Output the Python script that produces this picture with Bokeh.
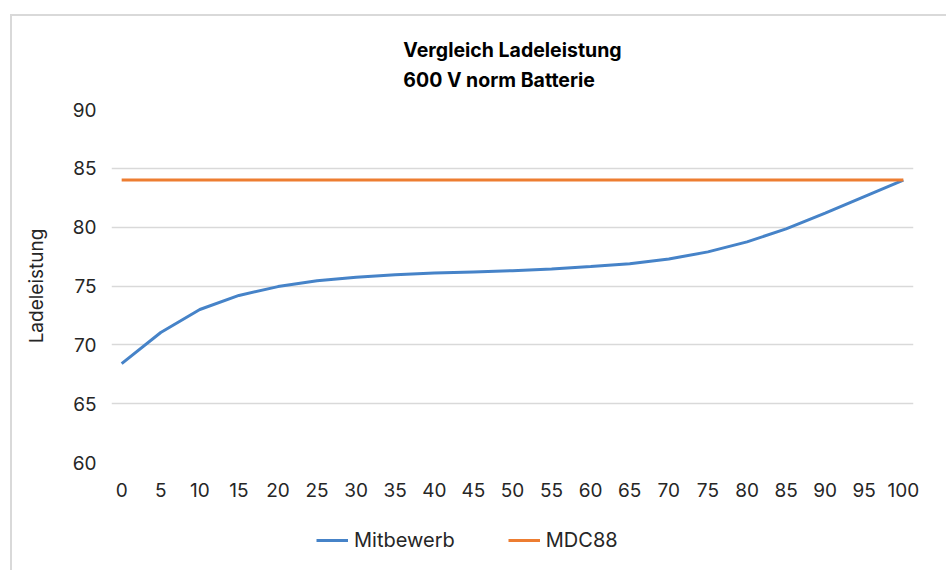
from bokeh.plotting import figure
from bokeh.layouts import column
from bokeh.models import FixedTicker, Legend, LegendItem, Title, Range1d
from bokeh.embed import file_html
from bokeh.resources import INLINE

# ---- data ----
x_values = [0, 5, 10, 15, 20, 25, 30, 35, 40, 45, 50, 55, 60, 65, 70, 75, 80, 85, 90, 95, 100]
mitbewerb = [68.4, 71.05, 73.0, 74.2, 74.95, 75.45, 75.75, 75.95, 76.1, 76.2, 76.3, 76.45,
             76.65, 76.9, 77.3, 77.9, 78.75, 79.85, 81.2, 82.6, 84.0]
mdc88 = [84.0] * len(x_values)
x_ticks = list(range(0, 101, 5))
y_ticks = [60, 65, 70, 75, 80, 85, 90]
series_names = ["Mitbewerb", "MDC88"]
title_lines = ["Vergleich Ladeleistung", "600 V norm Batterie"]
y_label = "Ladeleistung"

FONT = "Inter"
TEXT = "#262626"
BLUE = "#4683C8"
ORANGE = "#ED7D31"
BORDER = "2px solid #d9d9d9"

# ---- main chart ----
p = figure(width=936, height=486, output_backend="svg", toolbar_location=None,
           x_range=Range1d(-1.3, 101.3), y_range=Range1d(60, 90),
           min_border_left=99, min_border_right=35, min_border_top=93, min_border_bottom=40,
           title=None)
p.margin = (14, 0, 0, 10)
p.styles = {"border-top": BORDER, "border-left": BORDER}
p.outline_line_color = None
p.background_fill_color = "white"
p.border_fill_color = "white"

title = Title(text="\n".join(title_lines), align="center", text_font=FONT,
              text_font_size="19.5px", text_font_style="bold", text_color="#000000",
              text_line_height=1.27, standoff=34)
p.add_layout(title, "above")

p.line(x_values, mitbewerb, line_color=BLUE, line_width=3)
p.line(x_values, mdc88, line_color=ORANGE, line_width=3)

p.xaxis.ticker = FixedTicker(ticks=x_ticks)
p.yaxis.ticker = FixedTicker(ticks=y_ticks)
for ax in (p.xaxis, p.yaxis):
    ax.axis_line_color = None
    ax.major_tick_line_color = None
    ax.minor_tick_line_color = None
    ax.major_label_text_font = FONT
    ax.major_label_text_font_size = "19px"
    ax.major_label_text_color = TEXT
p.xaxis.major_label_standoff = 14
p.yaxis.major_label_standoff = 9
p.yaxis.axis_label = y_label
p.yaxis.axis_label_text_font = FONT
p.yaxis.axis_label_text_font_size = "19px"
p.yaxis.axis_label_text_font_style = "normal"
p.yaxis.axis_label_text_color = TEXT
p.yaxis.axis_label_standoff = 22

p.xgrid.grid_line_color = None
p.ygrid.grid_line_color = "#d9d9d9"
p.ygrid.grid_line_width = 1.3

# ---- legend strip (same series, drawn outside its visible range; only the legend shows) ----
p2 = figure(width=936, height=70, output_backend="svg", toolbar_location=None,
            x_range=Range1d(0, 100), y_range=Range1d(0, 1),
            x_axis_location=None, y_axis_location=None, min_border=0, title=None)
p2.margin = (0, 0, 0, 10)
p2.styles = {"border-left": BORDER}
p2.outline_line_color = None
p2.grid.visible = False
p2.background_fill_color = "white"
p2.border_fill_color = "white"
g1 = p2.line(x_values, mitbewerb, line_color=BLUE, line_width=3)
g2 = p2.line(x_values, mdc88, line_color=ORANGE, line_width=3)

legend = Legend(items=[LegendItem(label=series_names[0], renderers=[g1]),
                       LegendItem(label=series_names[1], renderers=[g2])],
                orientation="horizontal", location=(205, 18),
                border_line_color=None, background_fill_alpha=0,
                padding=0, spacing=53, label_standoff=6, glyph_width=32,
                label_text_font=FONT, label_text_font_size="20px", label_text_color=TEXT)
p2.add_layout(legend, "center")

layout = column(p, p2, spacing=0)
open("out.html", "w").write(file_html(layout, INLINE))
